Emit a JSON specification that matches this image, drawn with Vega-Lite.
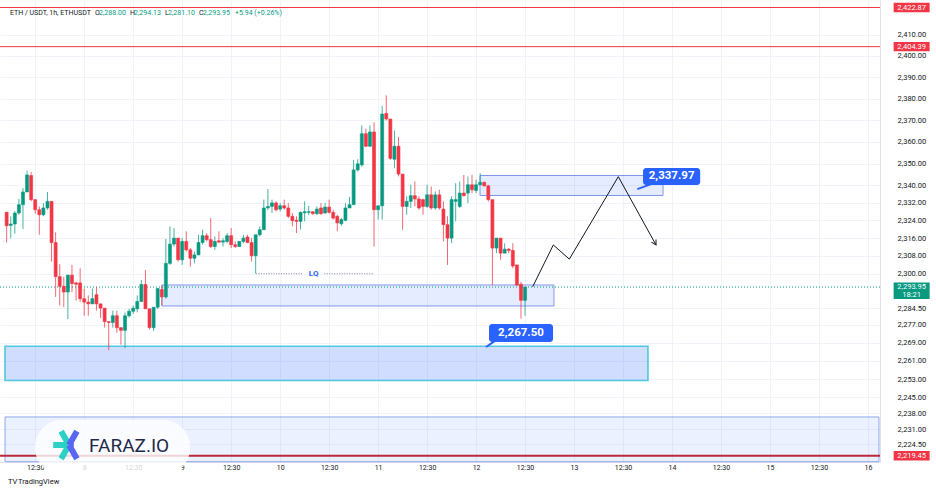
{
  "$schema": "https://vega.github.io/schema/vega-lite/v6.json",
  "width": 880,
  "height": 462,
  "padding": {"left": 0, "top": 0, "right": 56, "bottom": 30},
  "autosize": "none",
  "background": "white",
  "config": {
    "view": {"stroke": null},
    "font": "Roboto",
    "text": {"font": "Roboto"}
  },
  "datasets": {
    "candles": [
      {"t":5,"o":2327.7,"h":2328.0,"l":2314.0,"c":2321.6},
      {"t":6,"o":2321.8,"h":2325.9,"l":2316.0,"c":2322.4},
      {"t":7,"o":2322.4,"h":2328.2,"l":2318.0,"c":2327.4},
      {"t":8,"o":2327.4,"h":2333.8,"l":2326.6,"c":2331.2},
      {"t":9,"o":2331.2,"h":2338.8,"l":2320.1,"c":2337.0},
      {"t":10,"o":2337.0,"h":2346.7,"l":2337.0,"c":2344.8},
      {"t":11,"o":2344.5,"h":2346.1,"l":2332.7,"c":2333.5},
      {"t":12,"o":2333.5,"h":2333.5,"l":2327.1,"c":2328.9},
      {"t":13,"o":2328.9,"h":2330.4,"l":2317.5,"c":2326.6},
      {"t":14,"o":2326.6,"h":2331.9,"l":2325.9,"c":2329.7},
      {"t":15,"o":2329.7,"h":2337.0,"l":2328.9,"c":2332.7},
      {"t":16,"o":2332.7,"h":2332.7,"l":2305.4,"c":2314.0},
      {"t":17,"o":2314.0,"h":2318.6,"l":2289.5,"c":2298.6},
      {"t":18,"o":2298.6,"h":2304.2,"l":2285.7,"c":2294.3},
      {"t":19,"o":2294.3,"h":2298.6,"l":2284.9,"c":2291.7},
      {"t":20,"o":2291.7,"h":2299.3,"l":2279.6,"c":2299.3},
      {"t":21,"o":2299.3,"h":2303.9,"l":2291.7,"c":2295.5},
      {"t":22,"o":2295.8,"h":2296.3,"l":2287.9,"c":2295.2},
      {"t":23,"o":2295.8,"h":2302.4,"l":2287.2,"c":2288.7},
      {"t":24,"o":2288.7,"h":2293.3,"l":2281.1,"c":2287.2},
      {"t":25,"o":2287.2,"h":2290.2,"l":2281.1,"c":2286.4},
      {"t":26,"o":2286.4,"h":2293.3,"l":2286.4,"c":2288.7},
      {"t":27,"o":2290.5,"h":2294.0,"l":2283.4,"c":2286.4},
      {"t":28,"o":2286.4,"h":2286.4,"l":2280.1,"c":2284.5},
      {"t":29,"o":2284.5,"h":2284.5,"l":2275.8,"c":2278.5},
      {"t":30,"o":2278.5,"h":2278.5,"l":2265.8,"c":2278.1},
      {"t":31,"o":2278.1,"h":2283.4,"l":2275.8,"c":2281.1},
      {"t":32,"o":2281.1,"h":2283.4,"l":2273.5,"c":2275.8},
      {"t":33,"o":2275.8,"h":2275.8,"l":2268.2,"c":2274.6},
      {"t":34,"o":2274.6,"h":2282.6,"l":2266.7,"c":2281.1},
      {"t":35,"o":2281.1,"h":2284.2,"l":2280.4,"c":2283.1},
      {"t":36,"o":2283.1,"h":2285.7,"l":2281.9,"c":2284.5},
      {"t":37,"o":2284.2,"h":2290.2,"l":2282.6,"c":2287.5},
      {"t":38,"o":2287.5,"h":2297.1,"l":2287.2,"c":2295.1},
      {"t":39,"o":2295.1,"h":2301.6,"l":2284.2,"c":2284.2},
      {"t":40,"o":2284.2,"h":2284.2,"l":2275.0,"c":2275.8},
      {"t":41,"o":2275.8,"h":2284.9,"l":2274.3,"c":2284.9},
      {"t":42,"o":2284.9,"h":2293.3,"l":2284.2,"c":2293.3},
      {"t":43,"o":2292.8,"h":2294.8,"l":2285.7,"c":2289.5},
      {"t":44,"o":2289.5,"h":2315.6,"l":2288.7,"c":2304.6},
      {"t":45,"o":2304.6,"h":2321.3,"l":2303.9,"c":2313.3},
      {"t":46,"o":2313.3,"h":2320.6,"l":2312.2,"c":2316.0},
      {"t":47,"o":2316.0,"h":2316.0,"l":2305.4,"c":2306.2},
      {"t":48,"o":2306.2,"h":2316.0,"l":2303.9,"c":2314.5},
      {"t":49,"o":2314.5,"h":2319.1,"l":2309.9,"c":2310.7},
      {"t":50,"o":2310.7,"h":2311.5,"l":2303.1,"c":2306.9},
      {"t":51,"o":2306.9,"h":2309.9,"l":2304.6,"c":2308.4},
      {"t":52,"o":2308.4,"h":2317.5,"l":2308.4,"c":2314.0},
      {"t":53,"o":2314.0,"h":2319.8,"l":2313.0,"c":2317.1},
      {"t":54,"o":2317.1,"h":2318.3,"l":2314.5,"c":2315.3},
      {"t":55,"o":2315.3,"h":2325.1,"l":2311.5,"c":2312.2},
      {"t":56,"o":2312.2,"h":2316.8,"l":2310.7,"c":2314.5},
      {"t":57,"o":2314.8,"h":2319.1,"l":2313.7,"c":2314.2},
      {"t":58,"o":2314.2,"h":2316.0,"l":2312.2,"c":2314.8},
      {"t":59,"o":2314.5,"h":2318.3,"l":2313.7,"c":2317.1},
      {"t":60,"o":2317.1,"h":2320.6,"l":2311.5,"c":2313.0},
      {"t":61,"o":2313.0,"h":2314.5,"l":2311.5,"c":2312.2},
      {"t":62,"o":2312.2,"h":2314.5,"l":2312.2,"c":2314.5},
      {"t":63,"o":2314.5,"h":2317.5,"l":2313.7,"c":2316.0},
      {"t":64,"o":2316.5,"h":2317.5,"l":2313.7,"c":2314.0},
      {"t":65,"o":2314.0,"h":2316.0,"l":2305.4,"c":2308.0},
      {"t":66,"o":2308.0,"h":2317.5,"l":2300.0,"c":2317.5},
      {"t":67,"o":2317.5,"h":2321.3,"l":2316.8,"c":2319.8},
      {"t":68,"o":2319.8,"h":2333.5,"l":2319.8,"c":2329.7},
      {"t":69,"o":2329.7,"h":2338.3,"l":2328.9,"c":2330.4},
      {"t":70,"o":2330.4,"h":2333.5,"l":2327.4,"c":2332.0},
      {"t":71,"o":2332.0,"h":2332.7,"l":2328.1,"c":2328.9},
      {"t":72,"o":2329.2,"h":2331.9,"l":2328.1,"c":2330.7},
      {"t":73,"o":2330.7,"h":2333.5,"l":2328.9,"c":2329.7},
      {"t":74,"o":2329.7,"h":2331.9,"l":2325.1,"c":2325.9},
      {"t":75,"o":2325.9,"h":2327.4,"l":2321.3,"c":2323.9},
      {"t":76,"o":2324.1,"h":2325.9,"l":2318.3,"c":2323.6},
      {"t":77,"o":2323.6,"h":2328.1,"l":2319.8,"c":2327.7},
      {"t":78,"o":2327.5,"h":2332.7,"l":2323.6,"c":2328.0},
      {"t":79,"o":2327.7,"h":2330.7,"l":2326.6,"c":2328.0},
      {"t":80,"o":2328.0,"h":2328.1,"l":2326.6,"c":2327.1},
      {"t":81,"o":2327.1,"h":2330.4,"l":2326.6,"c":2329.2},
      {"t":82,"o":2329.7,"h":2331.9,"l":2326.6,"c":2327.1},
      {"t":83,"o":2327.4,"h":2331.9,"l":2327.1,"c":2330.1},
      {"t":84,"o":2330.1,"h":2333.5,"l":2327.1,"c":2327.7},
      {"t":85,"o":2327.7,"h":2328.9,"l":2324.4,"c":2325.1},
      {"t":86,"o":2325.9,"h":2326.6,"l":2319.1,"c":2322.9},
      {"t":87,"o":2322.5,"h":2325.1,"l":2321.6,"c":2324.4},
      {"t":88,"o":2324.1,"h":2331.9,"l":2323.6,"c":2329.7},
      {"t":89,"o":2329.7,"h":2334.7,"l":2329.7,"c":2331.2},
      {"t":90,"o":2331.2,"h":2351.7,"l":2331.2,"c":2347.1},
      {"t":91,"o":2347.1,"h":2352.0,"l":2346.4,"c":2349.9},
      {"t":92,"o":2349.4,"h":2367.6,"l":2348.6,"c":2363.8},
      {"t":93,"o":2363.8,"h":2366.1,"l":2357.7,"c":2358.0},
      {"t":94,"o":2358.0,"h":2367.6,"l":2357.7,"c":2364.6},
      {"t":95,"o":2364.6,"h":2369.1,"l":2312.2,"c":2328.9},
      {"t":96,"o":2328.9,"h":2330.7,"l":2324.4,"c":2330.7},
      {"t":97,"o":2330.7,"h":2376.7,"l":2324.4,"c":2372.9},
      {"t":98,"o":2373.2,"h":2381.6,"l":2369.9,"c":2370.6},
      {"t":99,"o":2370.6,"h":2370.6,"l":2351.7,"c":2352.4},
      {"t":100,"o":2352.0,"h":2365.3,"l":2347.9,"c":2358.0},
      {"t":101,"o":2358.0,"h":2362.3,"l":2344.1,"c":2345.2},
      {"t":102,"o":2345.2,"h":2345.2,"l":2319.8,"c":2330.4},
      {"t":103,"o":2330.4,"h":2335.0,"l":2326.6,"c":2332.7},
      {"t":104,"o":2332.7,"h":2340.3,"l":2329.7,"c":2335.3},
      {"t":105,"o":2335.3,"h":2341.8,"l":2330.4,"c":2333.8},
      {"t":106,"o":2333.8,"h":2335.0,"l":2328.9,"c":2329.7},
      {"t":107,"o":2333.5,"h":2334.0,"l":2326.6,"c":2330.4},
      {"t":108,"o":2330.4,"h":2340.3,"l":2329.7,"c":2335.7},
      {"t":109,"o":2335.7,"h":2339.5,"l":2328.9,"c":2329.7},
      {"t":110,"o":2329.7,"h":2337.3,"l":2328.9,"c":2335.7},
      {"t":111,"o":2335.7,"h":2338.0,"l":2328.9,"c":2329.7},
      {"t":112,"o":2329.2,"h":2332.7,"l":2314.5,"c":2322.1},
      {"t":113,"o":2322.1,"h":2325.9,"l":2303.9,"c":2316.0},
      {"t":114,"o":2316.0,"h":2335.0,"l":2313.7,"c":2333.5},
      {"t":115,"o":2332.7,"h":2341.0,"l":2323.6,"c":2333.5},
      {"t":116,"o":2330.4,"h":2341.8,"l":2329.7,"c":2336.5},
      {"t":117,"o":2336.5,"h":2344.8,"l":2335.0,"c":2335.3},
      {"t":118,"o":2336.5,"h":2344.1,"l":2331.9,"c":2340.3},
      {"t":119,"o":2340.3,"h":2344.8,"l":2336.5,"c":2338.0},
      {"t":120,"o":2337.7,"h":2342.6,"l":2336.5,"c":2340.3},
      {"t":121,"o":2340.3,"h":2345.6,"l":2340.3,"c":2341.4},
      {"t":122,"o":2341.4,"h":2341.8,"l":2339.5,"c":2339.8},
      {"t":123,"o":2339.8,"h":2340.3,"l":2332.7,"c":2333.5},
      {"t":124,"o":2333.5,"h":2333.5,"l":2294.8,"c":2311.5},
      {"t":125,"o":2311.5,"h":2316.0,"l":2309.2,"c":2316.0},
      {"t":126,"o":2316.0,"h":2316.0,"l":2306.2,"c":2309.2},
      {"t":127,"o":2309.2,"h":2313.7,"l":2309.2,"c":2311.0},
      {"t":128,"o":2311.0,"h":2311.5,"l":2309.2,"c":2310.4},
      {"t":129,"o":2310.4,"h":2313.7,"l":2302.4,"c":2303.4},
      {"t":130,"o":2303.9,"h":2303.9,"l":2294.8,"c":2294.8},
      {"t":131,"o":2295.2,"h":2296.3,"l":2279.8,"c":2288.0},
      {"t":132,"o":2288.0,"h":2294.13,"l":2281.1,"c":2293.95}
    ],
    "zones": [
      {"z":"upper","t1":120.96,"t2":165.8,"p1":2344.54,"p2":2335.39},
      {"z":"middle","t1":43.06,"t2":139.08,"p1":2294.86,"p2":2285.45}
    ],
    "support": [
      {"t1":4.6,"t2":162.1,"p1":2267.5,"p2":2252.4}
    ],
    "lower": [
      {"t1":4.6,"t2":218.7,"p1":2236.37,"p2":2216.9}
    ],
    "levels": [
      {"p":2422.87,"txt":"2,422.87"},
      {"p":2404.39,"txt":"2,404.39"}
    ],
    "path": [
      {"o":1,"t":133.87,"p":2294.1},
      {"o":2,"t":138.92,"p":2312.9},
      {"o":3,"t":142.84,"p":2306.5},
      {"o":4,"t":154.84,"p":2344.0},
      {"o":5,"t":164.08,"p":2312.9}
    ],
    "lq": [
      {"t1":66.09,"t2":77.6,"p":2299.9},
      {"t1":82.8,"t2":94.75,"p":2299.9}
    ],
    "callouts": [
      {"txt":"2,337.97","t1":160.9,"t2":174.9,"p1":2340.2,"p2":2348.0,"tc":167.9,"pc":2344.1,"ta":162.9,"pa":2340.6,"tb":159.5,"pb":2338.3},
      {"txt":"2,267.50","t1":123.17,"t2":138.85,"p1":2269.42,"p2":2277.43,"tc":131.0,"pc":2273.42,"ta":124.64,"pa":2269.9,"tb":122.44,"pb":2267.2}
    ],
    "header": [
      {"t":5.82,"txt":"ETH / USDT, 1h, ETHUSDT","k":"dark"},
      {"t":26.65,"txt":"O","k":"dark"},
      {"t":27.63,"txt":"2,288.00","k":"green"},
      {"t":35.22,"txt":"H","k":"dark"},
      {"t":36.2,"txt":"2,294.13","k":"green"},
      {"t":43.8,"txt":"L","k":"dark"},
      {"t":44.53,"txt":"2,281.10","k":"green"},
      {"t":52.13,"txt":"C","k":"dark"},
      {"t":53.1,"txt":"2,293.95","k":"green"},
      {"t":60.94,"txt":"+5.94 (+0.26%)","k":"green"}
    ]
  },
  "layer": [
    {
      "data": {"name": "lower"},
      "mark": {"type": "rect", "fill": "#2962ff", "fillOpacity": 0.09, "stroke": "#8fa6ee", "strokeWidth": 1},
      "encoding": {
        "x": {"field": "t1", "type": "quantitative", "scale": {"domain": [3.37, 218.95], "nice": false, "zero": false, "padding": 0},
          "axis": {"orient": "bottom", "title": null, "values": [12,24,36,48,60,72,84,96,108,120,132,144,156,168,180,192,204,216],
            "labelExpr": "datum.value % 24 == 0 ? toString(7 + datum.value / 24) : '12:30'",
            "grid": true, "gridColor": "#f0f3fa", "ticks": false, "domain": true, "domainColor": "#e0e3eb",
            "labelFontSize": 7, "labelColor": "#131722", "labelPadding": 1, "labelFont": "Roboto"}},
        "x2": {"field": "t2"},
        "y": {"field": "p1", "type": "quantitative", "scale": {"type": "log", "domain": [2216.76, 2426.43], "nice": false, "zero": false, "padding": 0},
          "axis": {"orient": "right", "title": null, "values": [2410,2400,2390,2380,2370,2360,2350,2340,2332,2324,2316,2308,2300,2284.5,2277,2269,2261,2253,2245,2238,2231,2224.5],
            "format": ",.2f", "grid": true, "gridColor": "#f0f3fa", "ticks": false, "domain": true, "domainColor": "#e0e3eb",
            "labelFontSize": 7.5, "labelColor": "#131722", "labelPadding": 17, "labelFont": "Roboto"}},
        "y2": {"field": "p2"}
      }
    },
    {
      "data": {"name": "support"},
      "mark": {"type": "rect", "fill": "#2962ff", "fillOpacity": 0.22, "stroke": "#4fc9dd", "strokeWidth": 1.6},
      "encoding": {
        "x": {"field": "t1", "type": "quantitative"}, "x2": {"field": "t2"},
        "y": {"field": "p1", "type": "quantitative"}, "y2": {"field": "p2"}
      }
    },
    {
      "data": {"name": "zones"},
      "mark": {"type": "rect", "fill": "#2962ff", "fillOpacity": 0.12, "stroke": "#7f97e8", "strokeWidth": 1},
      "encoding": {
        "x": {"field": "t1", "type": "quantitative"}, "x2": {"field": "t2"},
        "y": {"field": "p1", "type": "quantitative"}, "y2": {"field": "p2"}
      }
    },
    {
      "data": {"name": "lq"},
      "mark": {"type": "rule", "color": "#868993", "strokeWidth": 1, "strokeDash": [1, 1.5]},
      "encoding": {
        "x": {"field": "t1", "type": "quantitative"}, "x2": {"field": "t2"},
        "y": {"field": "p", "type": "quantitative"}
      }
    },
    {
      "data": {"values": [{"t": 80.2, "p": 2299.9, "txt": "LQ"}]},
      "mark": {"type": "text", "color": "#2962ff", "fontSize": 8, "fontWeight": "bold", "baseline": "middle", "align": "center"},
      "encoding": {
        "x": {"field": "t", "type": "quantitative"},
        "y": {"field": "p", "type": "quantitative"},
        "text": {"field": "txt"}
      }
    },
    {
      "data": {"values": [{"p": 2293.95}]},
      "mark": {"type": "rule", "color": "#089981", "strokeWidth": 1, "strokeDash": [1, 2]},
      "encoding": {"y": {"field": "p", "type": "quantitative"}}
    },
    {
      "data": {"name": "levels"},
      "mark": {"type": "rule", "color": "#f23645", "strokeWidth": 1},
      "encoding": {"y": {"field": "p", "type": "quantitative"}}
    },
    {
      "data": {"values": [{"p": 2219.45}]},
      "mark": {"type": "rule", "color": "#b8283a", "strokeWidth": 2},
      "encoding": {"y": {"field": "p", "type": "quantitative"}}
    },
    {
      "data": {"name": "candles"},
      "mark": {"type": "rule", "strokeWidth": 1, "opacity": 0.75},
      "encoding": {
        "x": {"field": "t", "type": "quantitative"},
        "y": {"field": "h", "type": "quantitative"},
        "y2": {"field": "l"},
        "color": {"condition": {"test": "datum.c >= datum.o", "value": "#089981"}, "value": "#f23645"}
      }
    },
    {
      "data": {"name": "candles"},
      "mark": {"type": "bar", "size": 3, "strokeWidth": 0.6},
      "encoding": {
        "x": {"field": "t", "type": "quantitative"},
        "y": {"field": "o", "type": "quantitative"},
        "y2": {"field": "c"},
        "color": {"condition": {"test": "datum.c >= datum.o", "value": "#089981"}, "value": "#f23645"},
        "stroke": {"condition": {"test": "datum.c >= datum.o", "value": "#089981"}, "value": "#f23645"}
      }
    },
    {
      "data": {"name": "path"},
      "mark": {"type": "line", "color": "#131722", "strokeWidth": 1},
      "encoding": {
        "x": {"field": "t", "type": "quantitative"},
        "y": {"field": "p", "type": "quantitative"},
        "order": {"field": "o"}
      }
    },
    {
      "data": {"values": [{"t": 164.08, "p": 2312.9}]},
      "mark": {"type": "point", "shape": "M-0.55,-1L0,0L0.55,-1", "filled": false, "stroke": "#131722", "strokeWidth": 1, "size": 90, "angle": 331, "opacity": 1},
      "encoding": {
        "x": {"field": "t", "type": "quantitative"},
        "y": {"field": "p", "type": "quantitative"}
      }
    },
    {
      "data": {"name": "callouts"},
      "mark": {"type": "rule", "color": "#2962ff", "strokeWidth": 2},
      "encoding": {
        "x": {"field": "ta", "type": "quantitative"}, "x2": {"field": "tb"},
        "y": {"field": "pa", "type": "quantitative"}, "y2": {"field": "pb"}
      }
    },
    {
      "data": {"name": "callouts"},
      "mark": {"type": "rect", "fill": "#2962ff", "cornerRadius": 3},
      "encoding": {
        "x": {"field": "t1", "type": "quantitative"}, "x2": {"field": "t2"},
        "y": {"field": "p1", "type": "quantitative"}, "y2": {"field": "p2"}
      }
    },
    {
      "data": {"name": "callouts"},
      "mark": {"type": "text", "color": "white", "fontSize": 11.5, "fontWeight": "bold", "align": "center", "baseline": "middle"},
      "encoding": {
        "x": {"field": "tc", "type": "quantitative"},
        "y": {"field": "pc", "type": "quantitative"},
        "text": {"field": "txt"}
      }
    },
    {
      "data": {"name": "header"},
      "mark": {"type": "text", "fontSize": 7, "align": "left", "baseline": "middle"},
      "encoding": {
        "x": {"field": "t", "type": "quantitative"},
        "y": {"datum": 2420.4, "type": "quantitative"},
        "text": {"field": "txt"},
        "color": {"field": "k", "type": "nominal", "scale": {"domain": ["dark", "green"], "range": ["#131722", "#089981"]}, "legend": null}
      }
    },
    {
      "data": {"values": [{"p": 2422.87, "txt": "2,422.87"}, {"p": 2404.39, "txt": "2,404.39"}, {"p": 2219.45, "txt": "2,219.45"}]},
      "layer": [
        {
          "mark": {"type": "point", "shape": "M-1,-0.26H1V0.26H-1Z", "filled": true, "fill": "#f23645", "opacity": 1, "size": 1296},
          "encoding": {"x": {"datum": 226.7, "type": "quantitative"}, "y": {"field": "p", "type": "quantitative"}}
        },
        {
          "mark": {"type": "text", "color": "white", "fontSize": 7.5, "align": "center", "baseline": "middle"},
          "encoding": {"x": {"datum": 226.7, "type": "quantitative"}, "y": {"field": "p", "type": "quantitative"}, "text": {"field": "txt"}}
        }
      ]
    },
    {
      "data": {"values": [{"p": 2292.3}]},
      "mark": {"type": "point", "shape": "M-1,-0.46H1V0.46H-1Z", "filled": true, "fill": "#089981", "opacity": 1, "size": 1296},
      "encoding": {"x": {"datum": 226.7, "type": "quantitative"}, "y": {"field": "p", "type": "quantitative"}}
    },
    {
      "data": {"values": [{"p": 2294.1, "txt": "2,293.95"}, {"p": 2290.4, "txt": "18:21"}]},
      "mark": {"type": "text", "color": "white", "fontSize": 7.5, "align": "center", "baseline": "middle"},
      "encoding": {"x": {"datum": 226.7, "type": "quantitative"}, "y": {"field": "p", "type": "quantitative"}, "text": {"field": "txt"}}
    },
    {
      "data": {"values": [{"t1": 11.95, "t2": 49.93, "p1": 2235.06, "p2": 2211.14}]},
      "mark": {"type": "rect", "fill": "white", "fillOpacity": 0.8, "cornerRadius": 27},
      "encoding": {
        "x": {"field": "t1", "type": "quantitative"}, "x2": {"field": "t2"},
        "y": {"field": "p1", "type": "quantitative"}, "y2": {"field": "p2"}
      }
    },
    {
      "data": {"values": [{"t": 20.28, "p": 2224.14}]},
      "layer": [
        {
          "mark": {"type": "point", "shape": "M-1,0H0M-0.5,-0.87L0,0M-0.5,0.87L0,0", "filled": false, "stroke": "#2ad1c4", "strokeWidth": 6, "size": 1000, "opacity": 1},
          "encoding": {"x": {"field": "t", "type": "quantitative"}, "y": {"field": "p", "type": "quantitative"}}
        },
        {
          "mark": {"type": "point", "shape": "M0,0H0.3M0.5,-0.87L0,0M0.5,0.87L0,0", "filled": false, "stroke": "#5866f0", "strokeWidth": 6, "size": 1000, "opacity": 1},
          "encoding": {"x": {"field": "t", "type": "quantitative"}, "y": {"field": "p", "type": "quantitative"}}
        }
      ]
    },
    {
      "data": {"values": [{"t": 25.2, "p": 2223.7, "txt": "FARAZ.IO"}]},
      "mark": {"type": "text", "color": "#1e2a4a", "fontSize": 19, "align": "left", "baseline": "middle", "font": "Roboto"},
      "encoding": {"x": {"field": "t", "type": "quantitative"}, "y": {"field": "p", "type": "quantitative"}, "text": {"field": "txt"}}
    },
    {
      "data": {"values": [{"t": 5.33, "p": 2208.1, "txt": "TV", "w": "bold", "k": "a"}, {"t": 7.78, "p": 2208.1, "txt": "TradingView", "w": "normal", "k": "b"}]},
      "mark": {"type": "text", "color": "#131722", "fontSize": 7.5, "align": "left", "baseline": "middle"},
      "encoding": {"x": {"field": "t", "type": "quantitative"}, "y": {"field": "p", "type": "quantitative"}, "text": {"field": "txt"}, "fontWeight": {"field": "w", "type": "nominal", "scale": null}}
    }
  ]
}
